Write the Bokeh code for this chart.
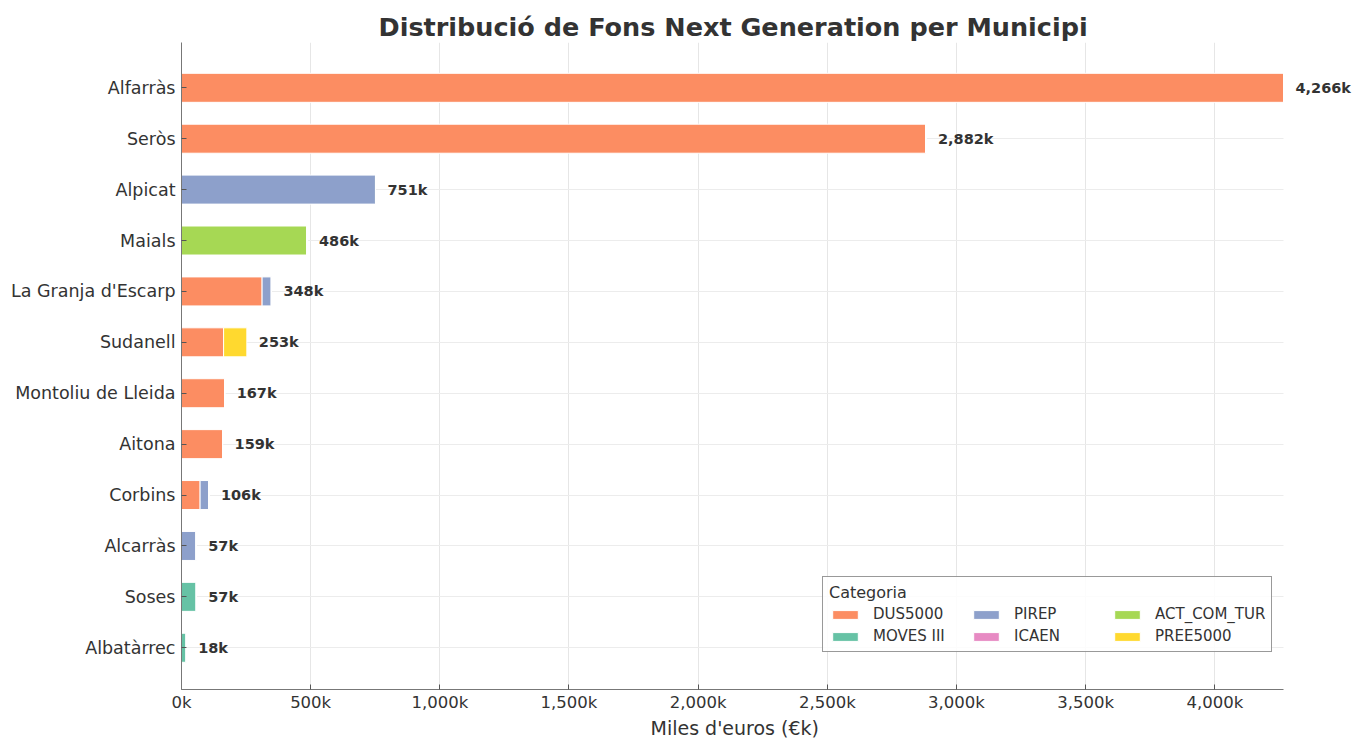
from bokeh.plotting import figure
from bokeh.models import (ColumnDataSource, Range1d, FixedTicker, Legend, LegendItem,
                          LabelSet, Title)
from bokeh.core.properties import value
from bokeh.embed import file_html
from bokeh.resources import INLINE

# ---------------- data ----------------
municipis = ["Alfarràs", "Seròs", "Alpicat", "Maials", "La Granja d'Escarp", "Sudanell",
             "Montoliu de Lleida", "Aitona", "Corbins", "Alcarràs", "Soses", "Albatàrrec"]
categories = ["DUS5000", "PIREP", "ACT_COM_TUR", "MOVES III", "ICAEN", "PREE5000"]
dus5000     = [4266, 2882, 0, 0, 312, 163, 167, 159, 72, 0, 0, 0]
pirep       = [0, 0, 751, 0, 36, 0, 0, 0, 34, 57, 0, 0]
act_com_tur = [0, 0, 0, 486, 0, 0, 0, 0, 0, 0, 0, 0]
moves_iii   = [0, 0, 0, 0, 0, 0, 0, 0, 0, 0, 57, 18]
icaen       = [0, 0, 0, 0, 0, 0, 0, 0, 0, 0, 0, 0]
pree5000    = [0, 0, 0, 0, 0, 90, 0, 0, 0, 0, 0, 0]
colors = ["#fc8d62", "#8da0cb", "#a6d854", "#66c2a5", "#e78ac3", "#ffd92f"]
legend_order = ["DUS5000", "MOVES III", "PIREP", "ICAEN", "ACT_COM_TUR", "PREE5000"]
x_ticks = [0, 500, 1000, 1500, 2000, 2500, 3000, 3500, 4000]
x_tick_labels = ["0k", "500k", "1,000k", "1,500k", "2,000k", "2,500k", "3,000k", "3,500k", "4,000k"]
title_text = "Distribució de Fons Next Generation per Municipi"
x_label = "Miles d'euros (€k)"

series = [dus5000, pirep, act_com_tur, moves_iii, icaen, pree5000]
n = len(municipis)
ypos = [n - 1 - i for i in range(n)]
totals = [sum(s[i] for s in series) for i in range(n)]
xmax = max(totals)

data = {"y": ypos}
for c, s in zip(categories, series):
    data[c] = s
source = ColumnDataSource(data)

FONT = "DejaVu Sans"
W, H = 1352, 739
FRAME_L = 181
DATA_R = 1283  # pixel where the largest total ends (frame extends past it for labels)

p = figure(width=W, height=H, output_backend="svg", toolbar_location=None,
           x_range=Range1d(0, xmax * (W - FRAME_L) / (DATA_R - FRAME_L)),
           y_range=Range1d(-0.82, n - 1 + 0.89),
           min_border_left=FRAME_L, min_border_right=0, min_border_top=42, min_border_bottom=30)

renderers = p.hbar_stack(categories, y="y", height=0.57, color=colors, source=source,
                         line_color="white", line_width=1)

# value labels
lsrc = ColumnDataSource({"x": totals, "y": ypos,
                         "text": ["{:,}k".format(t) for t in totals]})
labels = LabelSet(x="x", y="y", text="text", source=lsrc, x_offset=12,
                  text_baseline="middle", text_align="left",
                  text_font=value(FONT), text_font_style="bold", text_font_size="14.5px",
                  text_color="#333333")
p.add_layout(labels)

# title (left-aligned with an offset so it sits centred over the data area)
p.title.text = title_text
p.title.align = "left"
p.title.offset = 197
p.title.text_font = FONT
p.title.text_font_size = "25.5px"
p.title.text_font_style = "bold"
p.title.text_color = "#333333"
p.title.standoff = 2

# x axis label as a bottom title (so it can be centred on the data area)
xl = Title(text=x_label, align="left", offset=469, text_font=FONT,
           text_font_size="19px", text_font_style="normal", text_color="#333333",
           standoff=1)
p.add_layout(xl, "below")

# axes
p.xaxis.ticker = FixedTicker(ticks=x_ticks)
p.xaxis.major_label_overrides = {t: l for t, l in zip(x_ticks, x_tick_labels)}
p.xaxis.bounds = (0, xmax)
p.yaxis.ticker = FixedTicker(ticks=ypos)
p.yaxis.major_label_overrides = {y: m for y, m in zip(ypos, municipis)}
for ax in (p.xaxis[0], p.yaxis[0]):
    ax.axis_line_color = "#777777"
    ax.major_tick_line_color = "#555555"
    ax.major_tick_in = 5
    ax.major_tick_out = 0
    ax.minor_tick_line_color = None
    ax.major_label_text_font = FONT
    ax.major_label_text_color = "#333333"
p.yaxis.major_label_text_font_size = "17.5px"
p.xaxis.major_label_text_font_size = "16.5px"
p.yaxis.major_label_standoff = 6
p.xaxis.major_label_standoff = 3

p.xgrid.ticker = FixedTicker(ticks=x_ticks)
p.ygrid.ticker = FixedTicker(ticks=ypos)
p.xgrid.grid_line_color = "#e6e6e6"
p.ygrid.grid_line_color = "#ececec"
try:
    p.ygrid.cross_bounds = (0, xmax)
except Exception:
    pass
p.outline_line_color = None

# legend (filled column by column)
rmap = dict(zip(categories, renderers))
items = [LegendItem(label=c, renderers=[rmap[c]]) for c in legend_order]
legend = Legend(items=items, ncols=3, location=(641, 37), title="Categoria",
                title_text_font=FONT, title_text_font_size="16px", title_text_font_style="normal",
                title_text_color="#333333", title_standoff=3,
                label_text_font=FONT, label_text_font_size="15px", label_text_color="#333333",
                glyph_width=32, glyph_height=11, label_standoff=12, label_width=93,
                label_height=16, spacing=4, padding=6, margin=0,
                border_line_color="#333333", border_line_width=1,
                background_fill_color="white", background_fill_alpha=0.85)
p.add_layout(legend)

open("out.html", "w").write(file_html(p, INLINE))
